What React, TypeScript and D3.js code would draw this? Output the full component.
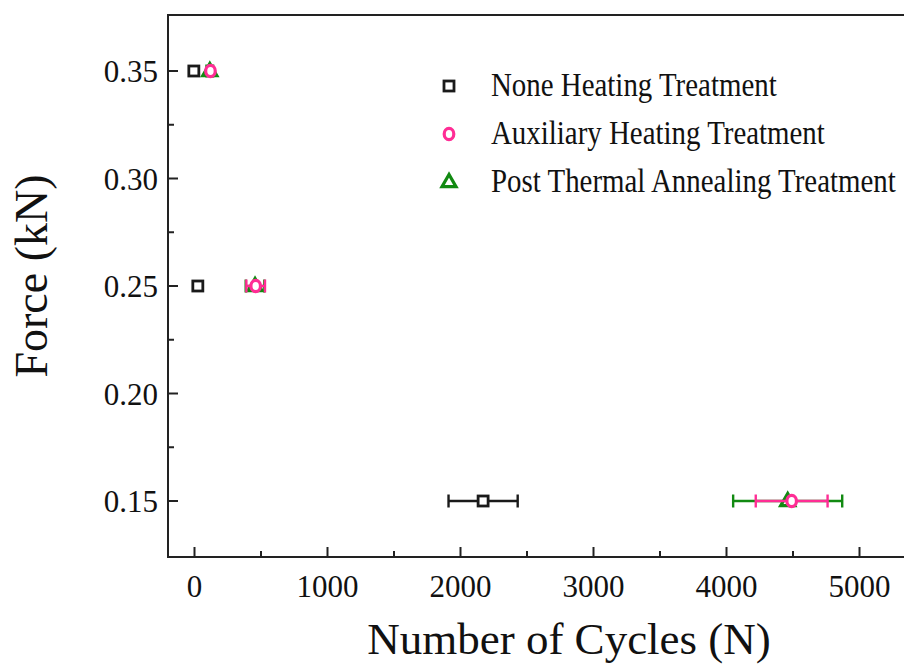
import * as React from 'react';
import * as d3 from 'd3';

interface Pt {
  x: number;
  y: number;
  err: number;
}

// series
const noneHeating: Pt[] = [
  { x: -5, y: 0.35, err: 0 },
  { x: 25, y: 0.25, err: 0 },
  { x: 2170, y: 0.15, err: 260 },
];
const auxHeating: Pt[] = [
  { x: 120, y: 0.35, err: 0 },
  { x: 460, y: 0.25, err: 70 },
  { x: 4490, y: 0.15, err: 270 },
];
const postAnnealing: Pt[] = [
  { x: 115, y: 0.35, err: 25 },
  { x: 455, y: 0.25, err: 70 },
  { x: 4460, y: 0.15, err: 410 },
];

const xTicks = [0, 1000, 2000, 3000, 4000, 5000];
const xMinor = [500, 1500, 2500, 3500, 4500];
const yTicks = [0.15, 0.2, 0.25, 0.3, 0.35];
const yMinor = [0.175, 0.225, 0.275, 0.325];

const legendLabels = [
  'None Heating Treatment',
  'Auxiliary Heating Treatment',
  'Post Thermal Annealing Treatment',
];

const BLACK = '#1a1a1a';
const PINK = '#ff2d95';
const GREEN = '#128a12';
const FONT = '"Liberation Serif", "Times New Roman", serif';

type Shape = 'square' | 'circle' | 'triangle';

const Marker: React.FC<{ shape: Shape; cx: number; cy: number; color: string }> = ({ shape, cx, cy, color }) => {
  if (shape === 'square')
    return <rect x={cx - 5} y={cy - 5} width={10} height={10} fill="white" stroke={color} strokeWidth={2.8} />;
  if (shape === 'circle')
    return <ellipse cx={cx} cy={cy} rx={4.8} ry={5.6} fill="white" stroke={color} strokeWidth={3.2} />;
  const s = 14;
  const h = s * 0.866;
  const pts = [
    [cx, cy - h * 0.62],
    [cx - s / 2, cy + h * 0.38],
    [cx + s / 2, cy + h * 0.38],
  ];
  return <polygon points={pts.map(p => p.join(',')).join(' ')} fill="white" stroke={color} strokeWidth={3.2} strokeLinejoin="miter" />;
};

const App: React.FC = () => {
  const width = 904;
  const height = 665;
  const left = 168;
  const top = 15;
  const bottom = 557;

  const x = d3.scaleLinear().domain([0, 5000]).range([194.5, 859.5]);
  const y = d3.scaleLinear().domain([0.15, 0.35]).range([501, 71]);
  const right = x(5500);

  const series: { data: Pt[]; color: string; shape: Shape }[] = [
    { data: postAnnealing, color: GREEN, shape: 'triangle' },
    { data: auxHeating, color: PINK, shape: 'circle' },
    { data: noneHeating, color: BLACK, shape: 'square' },
  ];
  const legendShapes: { color: string; shape: Shape }[] = [
    { color: BLACK, shape: 'square' },
    { color: PINK, shape: 'circle' },
    { color: GREEN, shape: 'triangle' },
  ];

  return (
    <svg width={width} height={height} style={{ position: 'absolute', left: 0, top: 0, background: 'white' }}>
      {/* frame */}
      <rect x={left} y={top} width={right - left} height={bottom - top} fill="none" stroke="#222" strokeWidth={2} />

      {/* x ticks */}
      {xTicks.map(t => (
        <g key={'x' + t}>
          <line x1={x(t)} x2={x(t)} y1={bottom} y2={bottom - 10} stroke="#222" strokeWidth={2} />
          <text x={x(t)} y={597} textAnchor="middle" fontFamily={FONT} fontSize={31} fill="#111">
            {t}
          </text>
        </g>
      ))}
      {xMinor.map(t => (
        <line key={'xm' + t} x1={x(t)} x2={x(t)} y1={bottom} y2={bottom - 6} stroke="#222" strokeWidth={2} />
      ))}

      {/* y ticks */}
      {yTicks.map(t => (
        <g key={'y' + t}>
          <line x1={left} x2={left + 10} y1={y(t)} y2={y(t)} stroke="#222" strokeWidth={2} />
          <text x={158} y={y(t) + 11} textAnchor="end" fontFamily={FONT} fontSize={31} fill="#111">
            {d3.format('.2f')(t)}
          </text>
        </g>
      ))}
      {yMinor.map(t => (
        <line key={'ym' + t} x1={left} x2={left + 6} y1={y(t)} y2={y(t)} stroke="#222" strokeWidth={2} />
      ))}

      {/* axis titles */}
      <text x={569} y={654} textAnchor="middle" fontFamily={FONT} fontSize={45} fill="#111">
        Number of Cycles (N)
      </text>
      <text
        transform={`translate(47, 276) rotate(-90)`}
        textAnchor="middle"
        fontFamily={FONT}
        fontSize={46}
        fill="#111"
      >
        Force (kN)
      </text>

      {/* error bars and markers */}
      {series.map((s, si) => (
        <g key={'s' + si}>
          {s.data.map((d, i) =>
            d.err > 0 ? (
              <g key={i} stroke={s.color} strokeWidth={2.4}>
                <line x1={x(d.x - d.err)} x2={x(d.x + d.err)} y1={y(d.y)} y2={y(d.y)} />
                <line x1={x(d.x - d.err)} x2={x(d.x - d.err)} y1={y(d.y) - 6.5} y2={y(d.y) + 6.5} />
                <line x1={x(d.x + d.err)} x2={x(d.x + d.err)} y1={y(d.y) - 6.5} y2={y(d.y) + 6.5} />
              </g>
            ) : null
          )}
          {s.data.map((d, i) => (
            <Marker key={'m' + i} shape={s.shape} cx={x(d.x)} cy={y(d.y)} color={s.color} />
          ))}
        </g>
      ))}

      {/* legend */}
      {legendLabels.map((label, i) => (
        <g key={label} transform={`translate(449, ${86 + i * 48})`}>
          <Marker shape={legendShapes[i].shape} cx={0} cy={0} color={legendShapes[i].color} />
          <text
            transform="translate(42, 10) scale(0.85, 1)"
            fontFamily={FONT}
            fontSize={34}
            fill="#111"
          >
            {label}
          </text>
        </g>
      ))}
    </svg>
  );
};

export default App;
